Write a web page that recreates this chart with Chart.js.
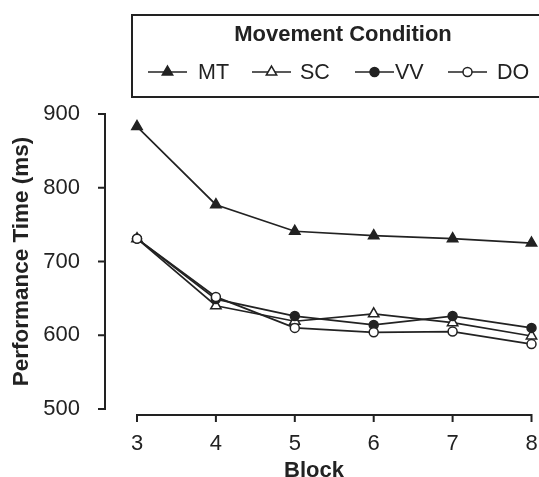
<!DOCTYPE html>
<html>
<head>
<meta charset="utf-8">
<script src="https://cdn.jsdelivr.net/npm/chart.js@4.4.1/dist/chart.umd.min.js"></script>
<style>
  html, body { margin: 0; padding: 0; background: #fff; overflow: hidden; }
  #wrap { width: 539px; height: 477px; }
</style>
</head>
<body>
<div id="wrap"><canvas id="perfChart" width="539" height="477"></canvas></div>
<script>
// values
var blocks = [3, 4, 5, 6, 7, 8];
var mtTimes = [883, 777, 741, 735, 731, 725];
var scTimes = [731, 640, 619, 629, 617, 599];
var vvTimes = [731, 649, 626, 614, 626, 610];
var doTimes = [731, 652, 610, 604, 605, 588];
var yTicks = [500, 600, 700, 800, 900];

var ink = '#222';
var fontFam = '"Liberation Sans", Arial, sans-serif';

function toPoints(vals) {
    var pts = [];
    for (var i = 0; i < blocks.length; i++) {
        pts.push({ x: blocks[i], y: vals[i] });
    }
    return pts;
}

function makeSet(label, vals, style, fill, ord) {
    return {
        label: label,
        data: toPoints(vals),
        borderColor: ink,
        borderWidth: 1.7,
        pointStyle: style,
        pointRadius: style === 'triangle' ? 6 : 4.5,
        pointBackgroundColor: fill,
        pointBorderColor: ink,
        pointBorderWidth: 1.5,
        tension: 0,
        clip: false,
        order: ord
    };
}

// axes drawn offset from the plot, like the original figure
var offsetAxes = {
    id: 'offsetAxes',
    afterDraw: function (chart) {
        var ctx = chart.ctx, area = chart.chartArea;
        var x = chart.scales.x, y = chart.scales.y;
        ctx.save();
        ctx.strokeStyle = ink;
        ctx.lineWidth = 2;
        ctx.beginPath();
        var ax = area.left - 32;
        ctx.moveTo(ax, y.getPixelForValue(yTicks[yTicks.length - 1]));
        ctx.lineTo(ax, y.getPixelForValue(yTicks[0]));
        y.ticks.forEach(function (t) {
            var py = y.getPixelForValue(t.value);
            ctx.moveTo(ax - 7, py);
            ctx.lineTo(ax + 1, py);
        });
        var ay = area.bottom + 6;
        ctx.moveTo(x.getPixelForValue(blocks[0]), ay);
        ctx.lineTo(x.getPixelForValue(blocks[blocks.length - 1]), ay);
        x.ticks.forEach(function (t) {
            var px = x.getPixelForValue(t.value);
            ctx.moveTo(px, ay - 1);
            ctx.lineTo(px, ay + 7);
        });
        ctx.stroke();

        // x axis title
        ctx.fillStyle = ink;
        ctx.font = 'bold 22px ' + fontFam;
        ctx.textAlign = 'center';
        ctx.textBaseline = 'alphabetic';
        ctx.fillText('Block', 314, 477);
        ctx.restore();
    }
};

// boxed legend with line + marker samples (right side runs off the page)
var boxLegend = {
    id: 'boxLegend',
    afterDraw: function (chart) {
        var ctx = chart.ctx;
        ctx.save();
        ctx.strokeStyle = ink;
        ctx.lineWidth = 2;
        ctx.beginPath();
        ctx.moveTo(600, 15);
        ctx.lineTo(132, 15);
        ctx.lineTo(132, 97);
        ctx.lineTo(600, 97);
        ctx.stroke();

        ctx.fillStyle = ink;
        ctx.font = 'bold 22px ' + fontFam;
        ctx.textAlign = 'center';
        ctx.textBaseline = 'middle';
        ctx.fillText('Movement Condition', 343, 35);

        var starts = [148, 252, 355, 448];
        var textX = [198, 300, 395, 497];
        var ly = 72;
        ctx.font = '21.5px ' + fontFam;
        ctx.textAlign = 'left';
        chart.data.datasets.forEach(function (ds, i) {
            ctx.strokeStyle = ink;
            ctx.lineWidth = 1.7;
            ctx.beginPath();
            ctx.moveTo(starts[i], ly);
            ctx.lineTo(starts[i] + 39, ly);
            ctx.stroke();
            ctx.fillStyle = ds.pointBackgroundColor;
            ctx.lineWidth = ds.pointBorderWidth;
            Chart.helpers.drawPoint(ctx, {
                pointStyle: ds.pointStyle,
                radius: ds.pointRadius,
                borderWidth: ds.pointBorderWidth,
                rotation: 0
            }, starts[i] + 19.5, ly);
            ctx.fillStyle = ink;
            ctx.fillText(ds.label, textX[i], ly + 1);
        });
        ctx.restore();
    }
};

var ctx = document.getElementById('perfChart');
var perfChart = new Chart(ctx, {
    type: 'line',
    data: {
        datasets: [
            makeSet('MT', mtTimes, 'triangle', ink, 3),
            makeSet('SC', scTimes, 'triangle', '#fff', 2),
            makeSet('VV', vvTimes, 'circle', ink, 1),
            makeSet('DO', doTimes, 'circle', '#fff', 0)
        ]
    },
    options: {
        responsive: false,
        animation: false,
        devicePixelRatio: 1,
        layout: { padding: { top: 114, right: 5, left: 0, bottom: 0 } },
        plugins: { legend: { display: false }, tooltip: { enabled: false } },
        scales: {
            x: {
                type: 'linear',
                min: 3,
                max: 8,
                afterFit: function (s) {
                    s.height = 68;
                    s.paddingLeft = 0;
                    s.paddingRight = 0;
                },
                grid: { display: false, drawTicks: false },
                border: { display: false },
                ticks: { stepSize: 1, padding: 22, color: ink, font: { family: fontFam, size: 22 } }
            },
            y: {
                min: 500,
                max: 900,
                afterFit: function (s) {
                    s.width = 137;
                    s.paddingTop = 0;
                    s.paddingBottom = 0;
                },
                grid: { display: false, drawTicks: false },
                border: { display: false },
                ticks: { stepSize: 100, padding: 57, color: ink, font: { family: fontFam, size: 22 } },
                title: {
                    display: true,
                    text: 'Performance Time (ms)',
                    color: ink,
                    font: { family: fontFam, size: 22.5, weight: 'bold' },
                    padding: { top: 8, bottom: 0 }
                }
            }
        }
    },
    plugins: [offsetAxes, boxLegend]
});
</script>
</body>
</html>
